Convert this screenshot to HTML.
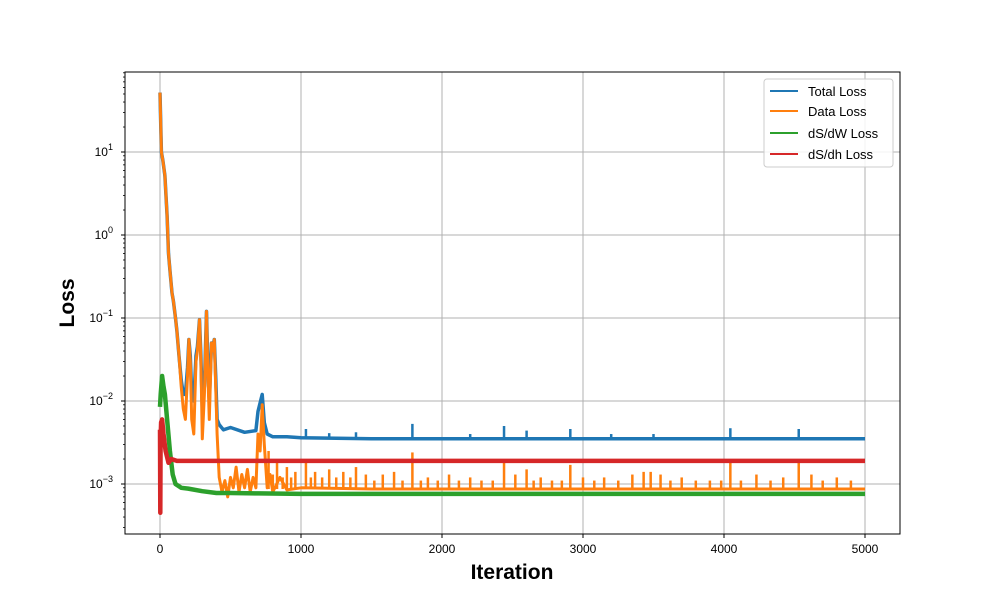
<!DOCTYPE html>
<html><head><meta charset="utf-8"><style>
body{margin:0;background:#fff}
text{font-family:"Liberation Sans","DejaVu Sans",sans-serif}
</style></head><body>
<svg id="chart" width="1000" height="600" xmlns="http://www.w3.org/2000/svg">
<rect width="1000" height="600" fill="#fff"/>
<g id="grid"></g><g id="series"></g><g id="axes"></g>
<text x="512" y="579" text-anchor="middle" font-size="21" font-weight="bold">Iteration</text>
<text transform="translate(74,303) rotate(-90)" text-anchor="middle" font-size="21" font-weight="bold">Loss</text>
<g>
<rect x="764" y="79" width="129" height="88" rx="3" fill="#fff" fill-opacity="0.85" stroke="#ccc"/>
<line x1="770" y1="91" x2="798" y2="91" stroke="#1f77b4" stroke-width="2"/><text x="808" y="96" font-size="13">Total Loss</text>
<line x1="770" y1="111" x2="798" y2="111" stroke="#ff7f0e" stroke-width="2"/><text x="808" y="116" font-size="13">Data Loss</text>
<line x1="770" y1="133" x2="798" y2="133" stroke="#2ca02c" stroke-width="2"/><text x="808" y="138" font-size="13">dS/dW Loss</text>
<line x1="770" y1="154" x2="798" y2="154" stroke="#d62728" stroke-width="2"/><text x="808" y="159" font-size="13">dS/dh Loss</text>
</g>
</svg>
<script>
const xTicks=[0,1000,2000,3000,4000,5000];
const yTickExps=[-3,-2,-1,0,1];
const dataIters=[0,10,20,35,50,60,70,85,95,110,120,135,150,165,180,195,205,215,225,240,255,265,280,290,300,315,330,340,350,365,375,385,395,405,420,440,460,480,500,520,540,560,580,600,620,640,660,680,695,710,725,740,760,780,800,850,900,1000,1500,2000,2500,3000,3500,4000,4500,5000];
const dataVals=[52,10,8,5.2,1.7,0.6,0.38,0.2,0.16,0.1,0.07,0.035,0.015,0.008,0.006,0.02,0.055,0.03,0.006,0.004,0.03,0.04,0.095,0.03,0.0035,0.012,0.12,0.02,0.006,0.05,0.04,0.055,0.015,0.004,0.0012,0.0008,0.0011,0.0007,0.0012,0.0009,0.0016,0.0008,0.0013,0.0009,0.0015,0.0008,0.0012,0.0009,0.004,0.0025,0.009,0.003,0.0009,0.0013,0.0008,0.0012,0.00085,0.0009,0.00087,0.00087,0.00087,0.00087,0.00087,0.00087,0.00087,0.00087];
const dataSpikeIters=[770,800,830,870,900,930,960,1035,1070,1100,1150,1200,1250,1300,1350,1390,1460,1520,1580,1660,1720,1790,1850,1900,1970,2050,2120,2200,2280,2360,2440,2520,2600,2650,2700,2780,2850,2910,3000,3080,3150,3250,3350,3430,3480,3550,3620,3700,3800,3900,3980,4045,4120,4230,4330,4420,4530,4620,4700,4800,4900];
const dataSpikeVals=[0.0025,0.0013,0.0018,0.0012,0.0016,0.0012,0.0014,0.002,0.0012,0.0014,0.0012,0.0015,0.0012,0.0014,0.0012,0.0016,0.0013,0.0011,0.0013,0.0014,0.0011,0.0024,0.0011,0.0012,0.0011,0.0013,0.0011,0.0012,0.0011,0.0011,0.0018,0.0013,0.0015,0.0011,0.0012,0.0011,0.0011,0.0017,0.0012,0.0011,0.0012,0.0011,0.0013,0.0014,0.0014,0.0013,0.0011,0.0012,0.0011,0.0011,0.0011,0.0019,0.0011,0.0013,0.0011,0.0012,0.0018,0.0013,0.0011,0.0012,0.0011];
const totalIters=[0,10,20,35,50,60,70,85,95,110,120,135,150,165,180,195,205,215,225,240,255,265,280,290,300,315,330,340,350,365,375,385,395,405,420,450,500,600,680,695,725,740,760,800,900,1000,1500,2000,2500,3000,3500,4000,4500,5000];
const totalVals=[52,10,8,5.2,1.7,0.6,0.38,0.2,0.16,0.1,0.07,0.035,0.018,0.012,0.012,0.025,0.055,0.035,0.012,0.01,0.035,0.045,0.095,0.035,0.008,0.015,0.12,0.025,0.01,0.05,0.045,0.055,0.02,0.006,0.0052,0.0045,0.0048,0.0042,0.0044,0.0075,0.012,0.0055,0.004,0.0037,0.0037,0.0036,0.0035,0.0035,0.0035,0.0035,0.0035,0.0035,0.0035,0.0035];
const totalSpikeIters=[1035,1200,1390,1790,2200,2440,2600,2910,3200,3500,4045,4530];
const totalSpikeVals=[0.0046,0.0041,0.0042,0.0053,0.004,0.005,0.0044,0.0046,0.004,0.004,0.0047,0.0046];
const dwIters=[0,5,15,25,35,50,70,90,110,150,200,300,400,500,700,1000,2000,3000,4000,5000];
const dwVals=[0.0085,0.012,0.02,0.015,0.012,0.006,0.0025,0.0013,0.001,0.0009,0.00088,0.00082,0.00078,0.00078,0.00077,0.00076,0.00076,0.00076,0.00076,0.00076];
const dhIters=[0,2,4,8,15,25,40,60,80,120,300,1000,2000,3000,4000,5000];
const dhVals=[0.0045,0.00045,0.0035,0.0055,0.006,0.004,0.0025,0.0018,0.002,0.0019,0.0019,0.0019,0.0019,0.0019,0.0019,0.0019];

const X=i=>160+i*0.141;
const Y=v=>484-83*(Math.log10(v)+3);
const NS='http://www.w3.org/2000/svg';
function mk(tag,parent,attrs){const e=document.createElementNS(NS,tag);for(const k in attrs)e.setAttribute(k,attrs[k]);parent.appendChild(e);return e;}
const grid=document.getElementById('grid'),ser=document.getElementById('series'),ax=document.getElementById('axes');
xTicks.forEach(t=>{
 const l=mk('line',grid,{x1:X(t),x2:X(t),y1:72,y2:534,stroke:'#b0b0b0','stroke-width':1});
 
 
 mk('line',ax,{x1:X(t),x2:X(t),y1:534,y2:538,stroke:'#000'});
 const tx=mk('text',ax,{x:X(t),y:553,'text-anchor':'middle','font-size':12});tx.textContent=t;
 
 
});
yTickExps.forEach(e=>{
 const y=Y(Math.pow(10,e));
 const l=mk('line',grid,{x1:125,x2:900,y1:y,y2:y,stroke:'#b0b0b0','stroke-width':1});
 
 
 mk('line',ax,{x1:121,x2:125,y1:y,y2:y,stroke:'#000'});
 const tx=mk('text',ax,{x:113,y:y+4,'text-anchor':'end','font-size':12});
 
 
 tx.textContent='10';
 const s=mk('tspan',tx,{dy:-6,'font-size':9});s.textContent=String(e).replace('-','\u2212');
});
for(let e=-4;e<=1;e++)for(let m=2;m<10;m++){const v=m*Math.pow(10,e),y=Y(v);if(y>72&&y<534)mk('line',ax,{x1:123,x2:125,y1:y,y2:y,stroke:'#000','stroke-width':0.8});}
function line(its,vals,color,w,name){
 const d=its.map((it,k)=>(k?'L':'M')+X(it).toFixed(1)+','+Y(vals[k]).toFixed(1)).join('');
 const p=mk('path',ser,{d:d,fill:'none',stroke:color,'stroke-width':w,'stroke-linejoin':'round'});
 
 
}
function spikes(its,vals,base,color,name){
 its.forEach((it,k)=>{const l=mk('line',ser,{x1:X(it),x2:X(it),y1:Y(base),y2:Y(vals[k]),stroke:color,'stroke-width':2.5});
 
 });
}
line(totalIters,totalVals,'#1f77b4',3.5,'total-loss-line');
spikes(totalSpikeIters,totalSpikeVals,0.0035,'#1f77b4','total-loss-spike');
line(dataIters,dataVals,'#ff7f0e',3,'data-loss-line');
spikes(dataSpikeIters,dataSpikeVals,0.00087,'#ff7f0e','data-loss-spike');
line(dwIters,dwVals,'#2ca02c',4.5,'dsdw-loss-line');
line(dhIters,dhVals,'#d62728',4.5,'dsdh-loss-line');
mk('rect',ax,{x:125,y:72,width:775,height:462,fill:'none',stroke:'#000','stroke-width':1});
</script>
</body></html>
